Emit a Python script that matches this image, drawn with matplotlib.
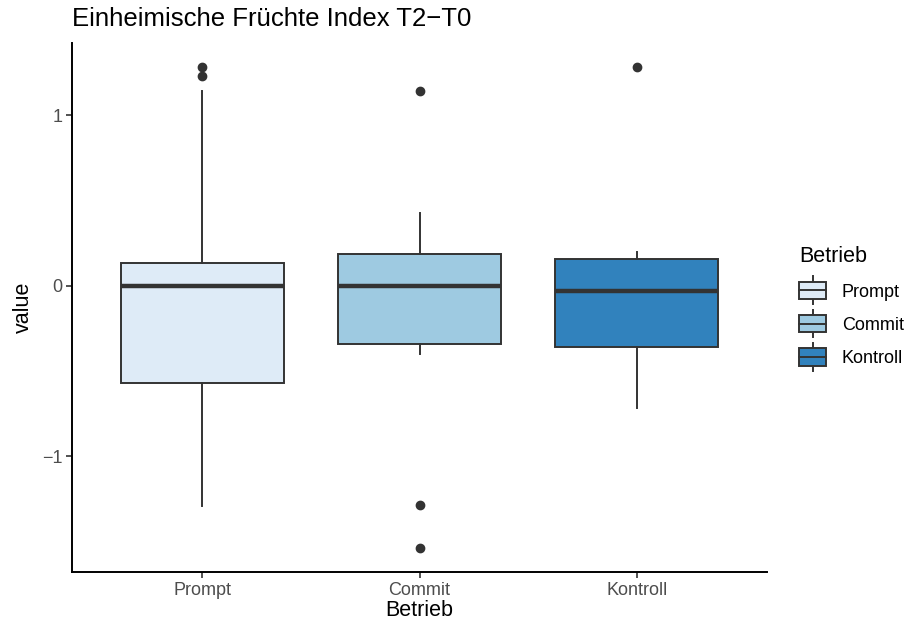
import matplotlib
matplotlib.use("Agg")
import matplotlib.pyplot as plt
from matplotlib.patches import Rectangle
from matplotlib.lines import Line2D
from matplotlib.legend_handler import HandlerBase

plt.rcParams['font.family'] = ['Liberation Sans', 'DejaVu Sans']

# Five-number summaries per group
groups = ["Prompt", "Commit", "Kontroll"]
q1 = [-0.569, -0.340, -0.358]
med = [-0.003, 0.000, -0.029]
q3 = [0.135, 0.188, 0.158]
whislo = [-1.29, -0.399, -0.716]
whishi = [1.144, 0.428, 0.199]
outliers = [[1.284, 1.232], [1.144, -1.284, -1.537], [1.284]]
fills = ["#DEEBF7", "#9ECAE1", "#3182BD"]

edge = "#333333"

fig = plt.figure(figsize=(9.16, 6.22), dpi=100)
ax = fig.add_axes([72 / 916, 1 - 572 / 622, (767 - 72) / 916, (572 - 43) / 622])

stats = []
for i, g in enumerate(groups):
    stats.append(dict(label=g, q1=q1[i], med=med[i], q3=q3[i],
                      whislo=whislo[i], whishi=whishi[i], fliers=outliers[i]))

bp = ax.bxp(stats, positions=[1, 2, 3], widths=0.75, patch_artist=True,
            showcaps=False,
            boxprops=dict(edgecolor=edge, linewidth=1.4),
            whiskerprops=dict(color=edge, linewidth=1.4),
            medianprops=dict(color=edge, linewidth=3.2, solid_capstyle='butt'),
            flierprops=dict(marker='o', markerfacecolor=edge, markeredgecolor=edge,
                            markersize=6, linestyle='none'))
for patch, c in zip(bp['boxes'], fills):
    patch.set_facecolor(c)

ax.set_xlim(0.4, 3.6)
lo = min(min(whislo), min(min(o) for o in outliers))
hi = max(max(whishi), max(max(o) for o in outliers))
pad = (hi - lo) * 0.05
ax.set_ylim(lo - pad, hi + pad)
ax.set_yticks([-1, 0, 1])
ax.set_yticklabels(["\u22121", "0", "1"])
ax.set_xticks([1, 2, 3])
ax.set_xticklabels(groups)

for s in ["top", "right"]:
    ax.spines[s].set_visible(False)
for s in ["left", "bottom"]:
    ax.spines[s].set_linewidth(1.4)
    ax.spines[s].set_color("black")
ax.tick_params(axis='both', colors="#333333", labelcolor="#4D4D4D",
               labelsize=13, length=4, width=1.2, pad=3)

ax.set_xlabel("Betrieb", fontsize=15.5, labelpad=1)
ax.set_ylabel("value", fontsize=15.5, labelpad=6)
ax.set_title("Einheimische Früchte Index T2\u2212T0", loc='left',
             fontsize=18.5, pad=12, x=0.0)


class BoxKeyHandler(HandlerBase):
    def create_artists(self, legend, orig_handle, xdescent, ydescent,
                       width, height, fontsize, trans):
        cx = width / 2 - xdescent
        by = -ydescent
        rect = Rectangle((cx - width / 2, by), width, height,
                         facecolor=orig_handle, edgecolor=edge, linewidth=1.4,
                         transform=trans)
        mid = Line2D([cx - width / 2, cx + width / 2], [by + height / 2] * 2,
                     color=edge, linewidth=1.4, transform=trans)
        wt = Line2D([cx, cx], [by + height, by + height * 1.3], color=edge,
                    linewidth=1.4, transform=trans)
        wb = Line2D([cx, cx], [by, by - height * 0.3], color=edge,
                    linewidth=1.4, transform=trans)
        return [wt, wb, rect, mid]


handles = fills
leg = fig.legend(handles, groups, handler_map={str: BoxKeyHandler()},
                 loc='upper left', bbox_to_anchor=(783 / 916, 1 - 230 / 622),
                 frameon=False, title="Betrieb", title_fontsize=15.5,
                 fontsize=13, handlelength=1.5, handleheight=1.1,
                 labelspacing=0.8, handletextpad=0.85, alignment='left')

fig.savefig("out.png", dpi=100)
